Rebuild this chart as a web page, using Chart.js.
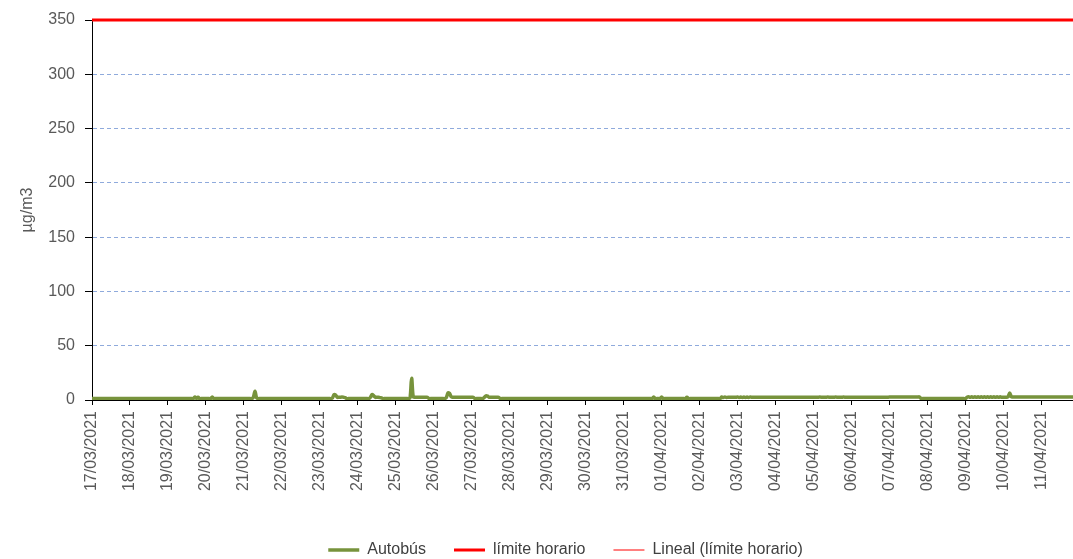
<!DOCTYPE html>
<html>
<head>
<meta charset="utf-8">
<script src="https://cdn.jsdelivr.net/npm/chart.js@4.4.1/dist/chart.umd.min.js"></script>
<style>
html,body{margin:0;padding:0;background:#fff;}
canvas{display:block;}
</style>
</head>
<body>
<canvas id="c" width="1073" height="559"></canvas>
<script>
// ---- categories ----
const days = ['17/03/2021','18/03/2021','19/03/2021','20/03/2021','21/03/2021','22/03/2021','23/03/2021','24/03/2021','25/03/2021','26/03/2021','27/03/2021','28/03/2021','29/03/2021','30/03/2021','31/03/2021','01/04/2021','02/04/2021','03/04/2021','04/04/2021','05/04/2021','06/04/2021','07/04/2021','08/04/2021','09/04/2021','10/04/2021','11/04/2021'];
const hours = ['00:00','01:00','02:00','03:00','04:00','05:00','06:00','07:00','08:00','09:00','10:00','11:00','12:00','13:00','14:00','15:00','16:00','17:00','18:00','19:00','20:00','21:00','22:00','23:00'];

// ---- series: Autobús, hourly values per day (µg/m3) ----
const autobusPorDia = [
/*17/03*/ [1.3,1.3,1.3,1.3,1.3,1.3,1.3,1.3,1.3,1.3,1.3,1.3,1.3,1.3,1.3,1.3,1.3,1.3,1.3,1.3,1.3,1.3,1.3,1.3],
/*18/03*/ [1.3,1.3,1.3,1.3,1.3,1.3,1.3,1.3,1.3,1.3,1.3,1.3,1.3,1.3,1.3,1.3,1.3,1.3,1.3,1.3,1.3,1.3,1.3,1.3],
/*19/03*/ [1.3,1.3,1.3,1.3,1.3,1.3,1.3,1.3,1.3,1.3,1.3,1.3,1.3,1.3,1.3,1.3,1.3,2.8,1.5,2.6,1.3,1.3,1.3,1.3],
/*20/03*/ [1.3,1.3,1.3,1.3,2.8,1.3,1.3,1.3,1.3,1.3,1.3,1.3,1.3,1.3,1.3,1.3,1.3,1.3,1.3,1.3,1.3,1.3,1.3,1.3],
/*21/03*/ [1.3,1.3,1.3,1.3,1.3,1.3,2.5,8.0,2.0,1.3,1.3,1.3,1.3,1.3,1.3,1.3,1.3,1.3,1.3,1.3,1.3,1.3,1.3,1.3],
/*22/03*/ [1.3,1.3,1.3,1.3,1.3,1.3,1.3,1.3,1.3,1.3,1.3,1.3,1.3,1.3,1.3,1.3,1.3,1.3,1.3,1.3,1.3,1.3,1.3,1.3],
/*23/03*/ [1.3,1.3,1.3,1.3,1.3,1.3,1.3,1.3,2.0,5.0,4.5,2.5,2.5,2.5,2.8,2.5,2.2,1.3,1.3,1.3,1.3,1.3,1.3,1.3],
/*24/03*/ [1.3,1.3,1.3,1.3,1.3,1.3,1.3,1.3,2.5,5.0,4.0,2.5,2.5,2.5,2.2,2.0,1.3,1.3,1.3,1.3,1.3,1.3,1.3,1.3],
/*25/03*/ [1.3,1.3,1.3,1.3,1.3,1.3,1.3,1.3,1.3,2.0,20.0,3.0,2.5,2.5,2.5,2.5,2.5,2.5,2.5,2.5,2.5,1.3,1.3,1.3],
/*26/03*/ [1.3,1.3,1.3,1.3,1.3,1.3,1.3,1.3,2.5,6.5,6.0,3.0,2.5,2.5,2.5,2.5,2.5,2.5,2.5,2.5,2.5,2.5,2.5,2.5],
/*27/03*/ [2.5,2.5,1.3,1.3,1.3,1.3,1.3,1.3,2.5,3.8,3.5,2.5,2.5,2.5,2.5,2.5,2.5,2.5,1.3,1.3,1.3,1.3,1.3,1.3],
/*28/03*/ [1.3,1.3,1.3,1.3,1.3,1.3,1.3,1.3,1.3,1.3,1.3,1.3,1.3,1.3,1.3,1.3,1.3,1.3,1.3,1.3,1.3,1.3,1.3,1.3],
/*29/03*/ [1.3,1.3,1.3,1.3,1.3,1.3,1.3,1.3,1.3,1.3,1.3,1.3,1.3,1.3,1.3,1.3,1.3,1.3,1.3,1.3,1.3,1.3,1.3,1.3],
/*30/03*/ [1.3,1.3,1.3,1.3,1.3,1.3,1.3,1.3,1.3,1.3,1.3,1.3,1.3,1.3,1.3,1.3,1.3,1.3,1.3,1.3,1.3,1.3,1.3,1.3],
/*31/03*/ [1.3,1.3,1.3,1.3,1.3,1.3,1.3,1.3,1.3,1.3,1.3,1.3,1.3,1.3,1.3,1.3,1.3,1.3,1.3,2.8,1.3,1.3,1.3,1.3],
/*01/04*/ [2.8,1.3,1.3,1.3,1.3,1.3,1.3,1.3,1.3,1.3,1.3,1.3,1.3,1.3,1.3,1.3,2.6,1.3,1.3,1.3,1.3,1.3,1.3,1.3],
/*02/04*/ [1.3,1.3,1.3,1.3,1.3,1.3,1.3,1.3,1.3,1.3,1.3,1.3,1.3,1.3,2.8,2.3,2.8,2.3,2.5,2.5,2.5,2.5,2.5,2.5],
/*03/04*/ [2.8,2.3,2.8,2.3,2.8,2.3,2.8,2.3,2.8,2.5,2.5,2.5,2.5,2.5,2.5,2.5,2.5,2.5,2.5,2.5,2.5,2.5,2.5,2.5],
/*04/04*/ [2.5,2.5,2.5,2.5,2.5,2.5,2.5,2.5,2.5,2.5,2.5,2.5,2.5,2.5,2.5,2.5,2.5,2.5,2.5,2.5,2.5,2.5,2.5,2.5],
/*05/04*/ [2.5,2.5,2.5,2.5,2.8,2.5,2.5,2.5,2.5,2.8,2.5,2.5,2.5,2.5,2.8,2.5,2.5,2.5,2.5,2.8,2.5,2.5,2.5,2.5],
/*06/04*/ [2.5,2.5,2.5,2.5,2.5,2.5,2.5,2.5,2.5,2.5,2.5,2.5,2.5,2.5,2.5,2.5,2.5,2.5,2.5,2.5,2.5,2.5,2.5,2.5],
/*07/04*/ [2.8,2.8,2.8,2.8,2.8,2.8,2.8,2.8,2.8,2.8,2.8,2.8,2.8,2.8,2.8,2.8,2.8,2.8,2.8,2.8,1.3,1.3,1.3,1.3],
/*08/04*/ [1.3,1.3,1.3,1.3,1.3,1.3,1.3,1.3,1.3,1.3,1.3,1.3,1.3,1.3,1.3,1.3,1.3,1.3,1.3,1.3,1.3,1.3,1.3,1.3],
/*09/04*/ [1.3,2.5,2.9,2.5,2.9,2.5,2.9,2.5,2.9,2.5,2.9,2.5,2.9,2.5,2.9,2.5,2.9,2.5,2.9,2.5,2.9,2.5,2.9,2.5],
/*10/04*/ [2.5,2.5,2.5,3.0,6.5,3.0,2.8,2.8,2.8,2.8,2.8,2.8,2.8,2.8,2.8,2.8,2.8,2.8,2.8,2.8,2.8,2.8,2.8,2.8],
/*11/04*/ [2.8,2.8,2.8,2.8,2.8,2.8,2.8,2.8,2.8,2.8,2.8,2.8,2.8,2.8,2.8,2.8,2.8,2.8,2.8,2.8,2.8]
];
const limiteHorario = 350;   // µg/m3
const yTicks = [0, 50, 100, 150, 200, 250, 300, 350];
const seriesNames = ['Autobús', 'límite horario', 'Lineal (límite horario)'];

// ---- build library table ----
const autobus = autobusPorDia.flat();
const labels = days.flatMap(d => hours.map(h => d + ' ' + h)).slice(0, autobus.length);
const limite = labels.map(() => limiteHorario);

const FONT = "'Liberation Sans', Arial, sans-serif";
Chart.defaults.font.family = FONT;

const legendShift = {
  id: 'legendShift',
  afterLayout(chart) {
    const lg = chart.legend;
    if (lg) { lg.top += 9; lg.bottom += 9; lg.left += 29; lg.right += 29; }
  }
};

new Chart(document.getElementById('c'), {
  type: 'line',
  data: {
    labels: labels,
    datasets: [
      { label: seriesNames[0], data: autobus, borderColor: '#77933C', backgroundColor: '#77933C',
        borderWidth: 3.5, pointRadius: 0, tension: 0.35, fill: false },
      { label: seriesNames[1], data: limite, borderColor: '#FF0000', backgroundColor: '#FF0000',
        borderWidth: 3, pointRadius: 0, fill: false, clip: 6 },
      { label: seriesNames[2], data: limite, borderColor: '#FF0000', backgroundColor: '#FF0000',
        borderWidth: 1, pointRadius: 0, fill: false, clip: 6 }
    ]
  },
  options: {
    responsive: false,
    animation: false,
    events: [],
    layout: { padding: { top: 20, right: 0, bottom: 0, left: 0 } },
    plugins: {
      tooltip: { enabled: false },
      legend: {
        position: 'bottom',
        labels: {
          usePointStyle: true, pointStyle: 'line', pointStyleWidth: 31,
          font: { size: 16, family: FONT }, color: '#404040', padding: 28
        }
      }
    },
    scales: {
      x: {
        type: 'category',
        offset: false,
        afterFit(s) { s.height = 105; s.paddingLeft = 0; s.paddingRight = 0; },
        grid: {
          drawOnChartArea: false, drawTicks: true, tickLength: 5,
          color: 'rgba(0,0,0,0)',
          tickColor: ctx => (ctx.index % 24 === 0 ? '#000000' : 'rgba(0,0,0,0)')
        },
        border: { display: true, color: '#000000', width: 1 },
        ticks: {
          autoSkip: false, maxRotation: 90, minRotation: 90, padding: 6,
          font: { size: 16, family: FONT }, color: '#595959',
          callback: (v, i) => (i % 24 === 0 ? days[i / 24] : '')
        }
      },
      y: {
        min: 0, max: 350,
        afterFit(s) { s.width = 92; },
        afterBuildTicks(s) { s.ticks = yTicks.map(v => ({ value: v })); },
        title: { display: true, text: 'µg/m3', font: { size: 16, family: FONT }, color: '#595959',
                 padding: { top: 18, bottom: 4 } },
        grid: {
          drawTicks: true, tickLength: 7, tickColor: '#000000', lineWidth: 1,
          color: ctx => (ctx.tick && ctx.tick.value === 0 ? 'rgba(0,0,0,0)' : '#8FAADC')
        },
        border: { display: true, color: '#000000', width: 1, dash: [4, 3] },
        ticks: { font: { size: 16, family: FONT }, color: '#595959', padding: 10 }
      }
    }
  },
  plugins: [legendShift]
});
</script>
</body>
</html>
